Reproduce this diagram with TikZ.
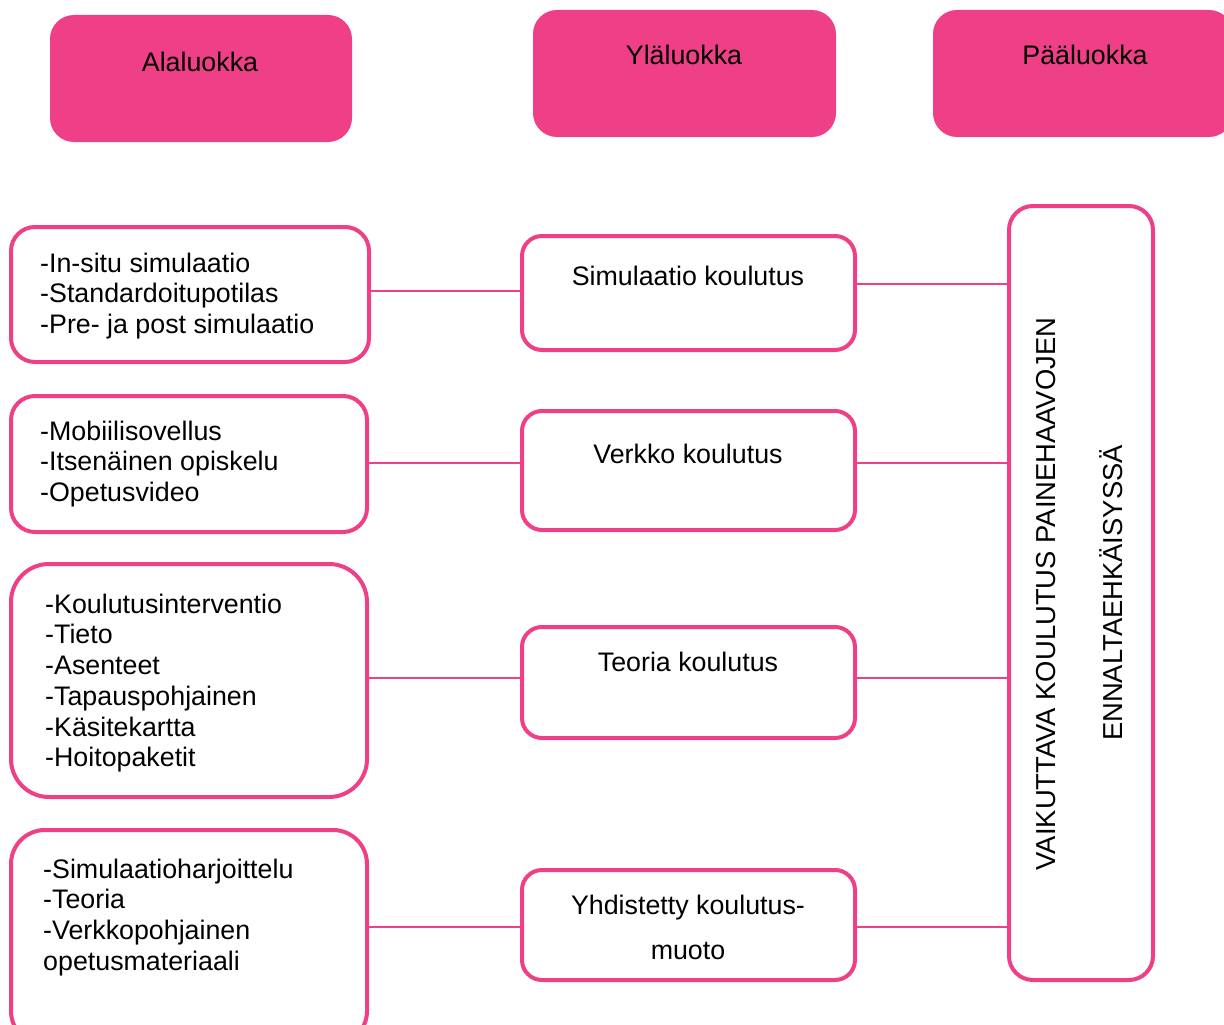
\documentclass[tikz,border=0pt]{standalone}
\usepackage{fontspec}
\setmainfont{Liberation Sans}
\definecolor{pk}{HTML}{EE3F87}
\newcommand\firststrut{\rule{0pt}{20pt}}
\begin{document}
\begin{tikzpicture}[x=1pt,y=-1pt,
  every node/.style={font=\fontsize{26.8}{30.7}\selectfont, inner sep=0pt},
  head/.style={fill=pk, draw=none, rounded corners=24pt},
  lbox/.style={draw=pk, line width=4pt, fill=white, rounded corners=24pt},
  mbox/.style={draw=pk, line width=4pt, fill=white, rounded corners=20pt},
  link/.style={draw=pk, line width=2pt},
  vtxt/.style={anchor=base, rotate=90, font=\fontsize{27.4}{30}\selectfont},
  txt/.style={align=left, anchor=north west}]
\useasboundingbox (0,0) rectangle (1224,1025);
\clip (0,0) rectangle (1224,1025);
% headers
\node[head, minimum width=302pt, minimum height=127pt] (H1) at (201,78.5) {};
\node[head, minimum width=303pt, minimum height=127pt] (H2) at (684.5,73.5) {};
\node[head, minimum width=300pt, minimum height=127pt] (H3) at (1083,73.5) {};
\node[anchor=base] (H1t) at (200,71) {Alaluokka};
\node[anchor=base] (H2t) at (684,65) {Yläluokka};
\node[anchor=base] (H3t) at (1085,65) {Pääluokka};
% left boxes
\node[lbox, minimum width=358pt, minimum height=135pt] (L1) at (190,294.5) {};
\node[lbox, minimum width=356pt, minimum height=136pt] (L2) at (189,464) {};
\node[lbox, rounded corners=38pt, minimum width=356pt, minimum height=233pt] (L3) at (189,680.5) {};
\node[lbox, rounded corners=34pt, minimum width=356pt, minimum height=215pt] (L4) at (189,937.5) {};
\node[txt] (L1t) at (40,252) {\firststrut-In-situ simulaatio\\-Standardoitupotilas\\-Pre- ja post simulaatio};
\node[txt] (L2t) at (40,420) {\firststrut-Mobiilisovellus\\-Itsenäinen opiskelu\\-Opetusvideo};
\node[txt] (L3t) at (45,593) {\firststrut-Koulutusinterventio\\-Tieto\\-Asenteet\\-Tapauspohjainen\\-Käsitekartta\\-Hoitopaketit};
\node[txt] (L4t) at (43,858) {\firststrut-Simulaatioharjoittelu\\-Teoria\\-Verkkopohjainen\\opetusmateriaali};
% middle boxes
\node[mbox, minimum width=333pt, minimum height=114pt] (M1) at (688.5,293) {};
\node[mbox, minimum width=333pt, minimum height=119pt] (M2) at (688.5,470.5) {};
\node[mbox, minimum width=333pt, minimum height=111pt] (M3) at (688.5,682.5) {};
\node[mbox, minimum width=333pt, minimum height=110pt] (M4) at (688.5,925) {};
\node[anchor=base] (M1t) at (688,285) {Simulaatio koulutus};
\node[anchor=base] (M2t) at (688,463) {Verkko koulutus};
\node[anchor=base] (M3t) at (688,671) {Teoria koulutus};
\node[anchor=base] (M4t) at (688,914) {Yhdistetty koulutus-};
\node[anchor=base] (M4u) at (688,959) {muoto};
% right box
\node[lbox, minimum width=144pt, minimum height=774pt] (R) at (1081,593) {};
\node[vtxt] (Rt1) at (1055,594) {VAIKUTTAVA KOULUTUS PAINEHAAVOJEN};
\node[vtxt] (Rt2) at (1122,593) {ENNALTAEHKÄISYSSÄ};
% connectors
\draw[link] (L1.east |- 0,291) -- (M1.west |- 0,291);
\draw[link] (L2.east |- 0,463) -- (M2.west |- 0,463);
\draw[link] (L3.east |- 0,678) -- (M3.west |- 0,678);
\draw[link] (L4.east |- 0,927) -- (M4.west |- 0,927);
\draw[link] (M1.east |- 0,284) -- (R.west |- 0,284);
\draw[link] (M2.east |- 0,463) -- (R.west |- 0,463);
\draw[link] (M3.east |- 0,678) -- (R.west |- 0,678);
\draw[link] (M4.east |- 0,927) -- (R.west |- 0,927);
\end{tikzpicture}
\end{document}
